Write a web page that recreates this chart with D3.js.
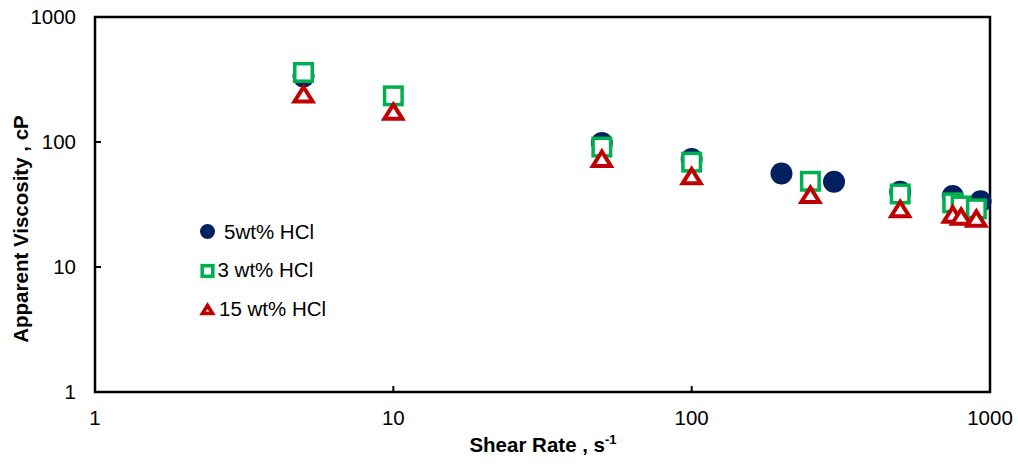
<!DOCTYPE html>
<html>
<head>
<meta charset="utf-8">
<script src="https://cdn.jsdelivr.net/npm/d3@7"></script>
<style>
  body { margin: 0; background: #fff; }
  svg { display: block; font-family: Arial, "Liberation Sans", sans-serif; }
</style>
</head>
<body>
<div id="chart"></div>
<script>
// shear rate (1/s) and apparent viscosity (cP) per HCl concentration
const rate5 = [5, 50, 100, 200, 300, 500, 750, 930];
const visc5 = [335, 98, 73, 56, 48, 40, 37, 33.5];
const rate3 = [5, 10, 50, 100, 250, 500, 750, 800, 900];
const visc3 = [360, 234, 91, 69, 48.5, 38.4, 32.6, 30.8, 29.2];
const rate15 = [5, 10, 50, 100, 250, 500, 750, 800, 900];
const visc15 = [241, 175, 73.5, 53.3, 37.8, 29.1, 26.3, 25.3, 24.4];
const xTicks = [1, 10, 100, 1000];
const yTicks = [1, 10, 100, 1000];
const legendLabels = ['5wt% HCl', '3 wt% HCl', '15 wt% HCl'];

const W = 1018, H = 464;
const m = { left: 95, right: 28, top: 17, bottom: 72 };
const FS = 20.5;

const svg = d3.select('#chart').append('svg').attr('width', W).attr('height', H);

const x = d3.scaleLog().domain([1, 1000]).range([m.left, W - m.right]);
const y = d3.scaleLog().domain([1, 1000]).range([H - m.bottom, m.top]);

// frame
svg.append('rect')
  .attr('x', x(1)).attr('y', y(1000))
  .attr('width', x(1000) - x(1)).attr('height', y(1) - y(1000))
  .attr('fill', 'none').attr('stroke', '#000').attr('stroke-width', 2.5);

// inward ticks
svg.append('g').selectAll('line').data(xTicks.slice(1, -1)).join('line')
  .attr('x1', (d) => x(d)).attr('x2', (d) => x(d))
  .attr('y1', y(1)).attr('y2', y(1) - 6)
  .attr('stroke', '#000').attr('stroke-width', 2);
svg.append('g').selectAll('line').data(yTicks.slice(1, -1)).join('line')
  .attr('x1', x(1)).attr('x2', x(1) + 6)
  .attr('y1', (d) => y(d)).attr('y2', (d) => y(d))
  .attr('stroke', '#000').attr('stroke-width', 2);

// tick labels
svg.append('g').selectAll('text').data(xTicks).join('text')
  .attr('x', (d) => x(d)).attr('y', y(1) + 33)
  .attr('text-anchor', 'middle').attr('font-size', FS).attr('fill', '#000')
  .text((d) => d);
svg.append('g').selectAll('text').data(yTicks).join('text')
  .attr('x', 76).attr('y', (d) => y(d) + 7)
  .attr('text-anchor', 'end').attr('font-size', FS).attr('fill', '#000')
  .text((d) => d);

// axis titles
const xt = svg.append('text')
  .attr('x', 543).attr('y', 452)
  .attr('text-anchor', 'middle').attr('font-size', FS).attr('font-weight', 'bold');
xt.append('tspan').text('Shear Rate , s');
xt.append('tspan').attr('dy', -8).attr('font-size', 13).text('-1');

svg.append('text')
  .attr('transform', 'translate(28,229) rotate(-90)')
  .attr('text-anchor', 'middle').attr('font-size', FS).attr('font-weight', 'bold')
  .text('Apparent Viscosity , cP');

// markers: circles under squares under triangles, hollow ones filled white
const navy = '#002060', green = '#00B050', red = '#C00000';
const tri = (s) => `M0,${-s * 0.8}L${s},${s * 0.8}L${-s},${s * 0.8}Z`;

svg.append('g').selectAll('circle').data(d3.zip(rate5, visc5)).join('circle')
  .attr('cx', (d) => x(d[0])).attr('cy', (d) => y(d[1])).attr('r', 11)
  .attr('fill', navy);

svg.append('g').selectAll('rect').data(d3.zip(rate3, visc3)).join('rect')
  .attr('x', (d) => x(d[0]) - 8.75).attr('y', (d) => y(d[1]) - 8.75)
  .attr('width', 17.5).attr('height', 17.5)
  .attr('fill', '#fff').attr('stroke', green).attr('stroke-width', 3.5);

svg.append('g').selectAll('path').data(d3.zip(rate15, visc15)).join('path')
  .attr('transform', (d) => `translate(${x(d[0])},${y(d[1])})`)
  .attr('d', tri(9))
  .attr('fill', '#fff').attr('stroke', red).attr('stroke-width', 4)
  .attr('stroke-linejoin', 'miter');

// legend
const lg = svg.append('g');
lg.append('circle').attr('cx', 207.5).attr('cy', 231.5).attr('r', 7.5).attr('fill', navy);
lg.append('rect').attr('x', 202.2).attr('y', 265.7).attr('width', 10.6).attr('height', 10.6)
  .attr('fill', '#fff').attr('stroke', green).attr('stroke-width', 3.6);
lg.append('path').attr('transform', 'translate(207.5,309.5)').attr('d', tri(5))
  .attr('fill', '#fff').attr('stroke', red).attr('stroke-width', 3.6);
lg.selectAll('text').data(legendLabels).join('text')
  .attr('x', (d, i) => [224, 217.5, 219][i])
  .attr('y', (d, i) => [238.5, 277, 315.5][i])
  .attr('font-size', FS).attr('fill', '#000')
  .text((d) => d);
</script>
</body>
</html>
